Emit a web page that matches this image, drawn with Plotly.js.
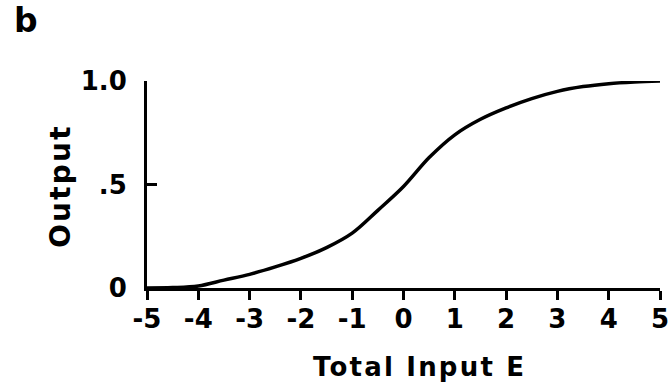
<!DOCTYPE html>
<html>
<head>
<meta charset="utf-8">
<script src="https://cdn.plot.ly/plotly-3.0.1.min.js"></script>
<style>
  html, body { margin: 0; padding: 0; background: #fff; }
  #chart { width: 669px; height: 389px; }
  .annotation-text { letter-spacing: 2.2px; }
</style>
</head>
<body>
<div id="chart"></div>
<script>
// Data
const inputE = [-5, -4.5, -4, -3.5, -3, -2.5, -2, -1.5, -1, -0.5, 0, 0.5, 1, 1.5, 2, 2.5, 3, 3.5, 4, 4.5, 5];
const output = [0, 0.002, 0.01, 0.038, 0.066, 0.102, 0.143, 0.195, 0.265, 0.375, 0.49, 0.63, 0.74, 0.815, 0.87, 0.915, 0.95, 0.973, 0.987, 0.995, 1.0];

const xTickVals = [-5, -4, -3, -2, -1, 0, 1, 2, 3, 4, 5];
const xTickText = ['-5', '-4', '-3', '-2', '-1', '0', '1', '2', '3', '4', '5'];
const yTickVals = [0, 0.5, 1.0];
const yTickText = ['0', '.5', '1.0'];

const FONT = 'DejaVu Sans';

const trace = {
  x: inputE,
  y: output,
  type: 'scatter',
  mode: 'lines',
  line: { color: '#000', width: 3.5, shape: 'spline', smoothing: 1 },
  cliponaxis: false,
  hoverinfo: 'skip'
};

const layout = {
  width: 669,
  height: 389,
  margin: { l: 147, r: 9, t: 81, b: 101 },
  paper_bgcolor: '#fff',
  plot_bgcolor: '#fff',
  showlegend: false,
  font: { family: FONT, color: '#000', weight: 'bold' },
  xaxis: {
    range: [-5, 5],
    tickmode: 'array',
    tickvals: xTickVals,
    ticktext: xTickText,
    ticks: 'outside',
    ticklen: 9,
    tickwidth: 3,
    tickcolor: '#000',
    showline: true,
    linewidth: 3,
    linecolor: '#000',
    showgrid: false,
    zeroline: false,
    ticklabelstandoff: -3,
    ticklabeloverflow: 'allow',
    tickfont: { family: FONT, size: 26, color: '#000', weight: 'bold' }
  },
  yaxis: {
    range: [0, 1],
    tickmode: 'array',
    tickvals: yTickVals,
    ticktext: yTickText,
    ticks: 'inside',
    ticklen: 10,
    tickwidth: 3,
    tickcolor: '#000',
    showline: true,
    linewidth: 3,
    linecolor: '#000',
    showgrid: false,
    zeroline: false,
    ticklabelstandoff: 12,
    ticklabeloverflow: 'allow',
    tickfont: { family: FONT, size: 26, color: '#000', weight: 'bold' }
  },
  annotations: [
    {
      text: 'b',
      xref: 'paper', yref: 'paper',
      x: -0.263, y: 1.29,
      xanchor: 'left', yanchor: 'middle',
      showarrow: false,
      font: { family: FONT, size: 33, color: '#000', weight: 'bold' }
    },
    {
      text: 'Total Input E',
      xref: 'paper', yref: 'paper',
      x: 0.532, y: -0.382,
      xanchor: 'center', yanchor: 'middle',
      showarrow: false,
      font: { family: FONT, size: 26, color: '#000', weight: 'bold' }
    },
    {
      text: 'Output',
      xref: 'paper', yref: 'paper',
      x: -0.1676, y: 0.493,
      xanchor: 'center', yanchor: 'middle',
      textangle: -90,
      showarrow: false,
      font: { family: FONT, size: 28, color: '#000', weight: 'bold' }
    }
  ]
};

Plotly.newPlot('chart', [trace], layout, { displayModeBar: false, staticPlot: true });
</script>
</body>
</html>
